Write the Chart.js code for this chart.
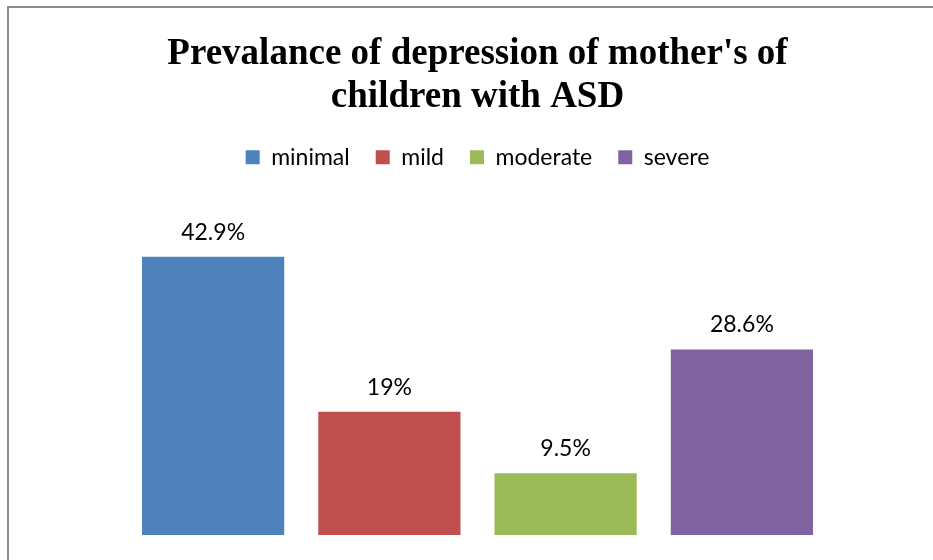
<!DOCTYPE html>
<html lang="en">
<head>
    <meta charset="UTF-8">
    <title>Prevalance of depression</title>
    <script src="https://cdn.jsdelivr.net/npm/chart.js"></script>
    <style>
        body { margin: 0; background: #fff; }
        .janela { position: relative; width: 933px; height: 560px; }
        .moldura {
            position: absolute; left: 7px; top: 6px; right: 0; bottom: 0;
            border-left: 2px solid #8c8c8c; border-top: 2px solid #8c8c8c;
            pointer-events: none;
        }
    </style>
</head>
<body>
    <div class="janela">
        <canvas id="grafico"></canvas>
        <div class="moldura"></div>
    </div>

<script>
    // dados
    const categorias = ['minimal', 'mild', 'moderate', 'severe'];
    const valores = [42.9, 19, 9.5, 28.6];
    const rotulos = ['42.9%', '19%', '9.5%', '28.6%'];
    const cores = ['#4f81bd', '#c0504d', '#9bbb59', '#8064a2'];

    // escreve o percentual em cima de cada barra
    const rotulosBarras = {
        id: 'rotulosBarras',
        afterDatasetsDraw(chart) {
            const ctx = chart.ctx;
            const meta = chart.getDatasetMeta(0);
            ctx.save();
            ctx.font = '23px Lato';
            ctx.fillStyle = '#000';
            ctx.textAlign = 'center';
            ctx.textBaseline = 'alphabetic';
            meta.data.forEach(function (barra, i) {
                ctx.fillText(rotulos[i], barra.x, barra.y - 17);
            });
            ctx.restore();
        }
    };

    const config = {
        type: 'bar',
        data: {
            labels: categorias,
            datasets: [{
                label: 'depression',
                data: valores,
                backgroundColor: cores,
                borderWidth: 0,
                categoryPercentage: 1,
                barPercentage: 0.807
            }]
        },
        options: {
            responsive: true,
            maintainAspectRatio: false,
            animation: false,
            layout: { padding: { left: 125, right: 103, top: 33, bottom: 25 } },
            scales: {
                x: { display: false },
                y: { display: false, min: 0, max: 54.9 }
            },
            plugins: {
                tooltip: { enabled: false },
                title: {
                    display: true,
                    text: ["Prevalance of depression of mother's of", 'children with ASD'],
                    color: '#000',
                    font: { family: "'Liberation Serif', 'Times New Roman', serif", size: 37, weight: 'bold', lineHeight: 1.16 },
                    padding: { top: 0, bottom: 1 }
                },
                legend: {
                    display: true,
                    onClick: null,
                    labels: {
                        color: '#000',
                        font: { family: 'Lato', size: 23 },
                        boxWidth: 14,
                        boxHeight: 14,
                        padding: 26,
                        generateLabels: function (chart) {
                            return chart.data.labels.map(function (nome, i) {
                                return {
                                    text: nome,
                                    fillStyle: cores[i],
                                    strokeStyle: cores[i],
                                    lineWidth: 0,
                                    index: i
                                };
                            });
                        }
                    }
                }
            }
        },
        plugins: [rotulosBarras]
    };

    new Chart(document.getElementById('grafico'), config);
</script>
</body>
</html>
